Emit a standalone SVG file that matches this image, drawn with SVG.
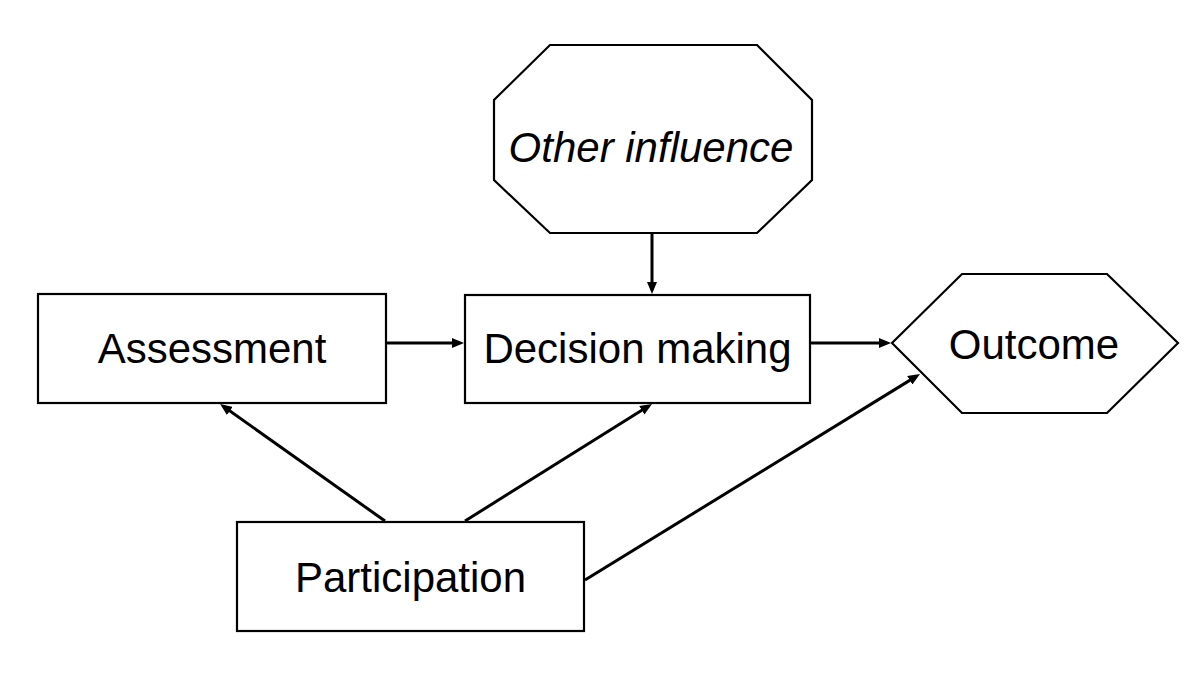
<svg xmlns="http://www.w3.org/2000/svg" width="1200" height="676" viewBox="0 0 1200 676">
<style>
.shape{fill:#fff;stroke:#000;stroke-width:2.2}
.lbl{font-family:"Liberation Sans",Arial,sans-serif;font-size:42px;fill:#000;text-anchor:middle}
.it{font-style:italic}
.conn line{stroke:#000;stroke-width:3;fill:none}
</style>
<defs>
<marker id="ah" markerUnits="userSpaceOnUse" viewBox="0 0 12 10" markerWidth="12" markerHeight="10" refX="8" refY="5" orient="auto">
<path d="M0,0 L12,5 L0,10 z" fill="#000"/>
</marker>
</defs>
<rect width="1200" height="676" fill="#fff"/>
<g id="other-influence">
<polygon class="shape" points="550,45 757,45 812,100 812,180 757,233 550,233 494,180 494,100"/>
<text class="lbl it" x="651" y="162">Other influence</text>
</g>
<g id="assessment">
<rect class="shape" x="38" y="294" width="348" height="109"/>
<text class="lbl" x="212" y="363">Assessment</text>
</g>
<g id="decision-making">
<rect class="shape" x="465" y="295" width="345" height="108"/>
<text class="lbl" x="637.5" y="363">Decision making</text>
</g>
<g id="outcome">
<polygon class="shape" points="892,343 962,274 1107,274 1178,343 1107,413 962,413"/>
<text class="lbl" x="1034" y="359">Outcome</text>
</g>
<g id="participation">
<rect class="shape" x="237" y="522" width="347" height="109"/>
<text class="lbl" x="410.5" y="592">Participation</text>
</g>
<g id="connectors" class="conn">
<line x1="652" y1="234" x2="652" y2="290" marker-end="url(#ah)"/>
<line x1="387" y1="343" x2="460" y2="343" marker-end="url(#ah)"/>
<line x1="811" y1="343" x2="887" y2="343" marker-end="url(#ah)"/>
<line x1="385" y1="521" x2="223.3" y2="406.3" marker-end="url(#ah)"/>
<line x1="465" y1="521" x2="648.6" y2="406.1" marker-end="url(#ah)"/>
<line x1="585" y1="580" x2="916.6" y2="376.1" marker-end="url(#ah)"/>
</g>
</svg>
